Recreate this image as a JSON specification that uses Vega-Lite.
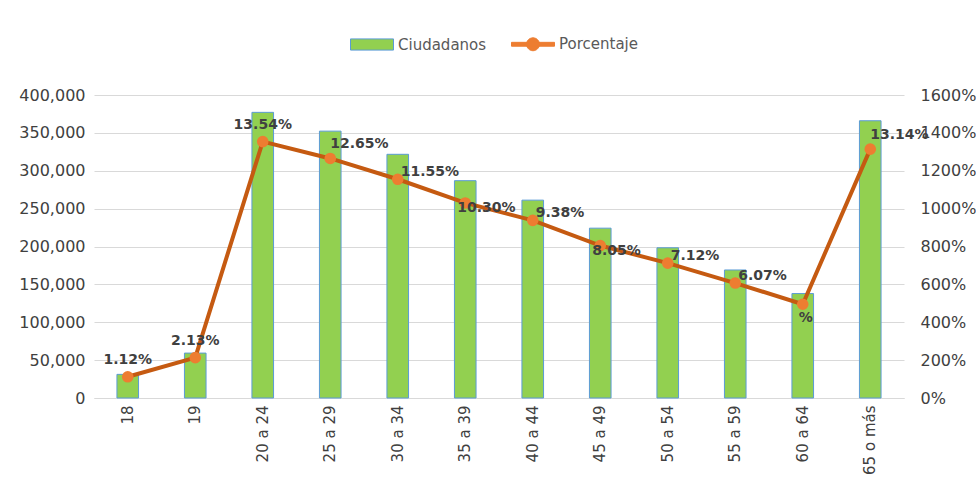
{
  "$schema": "https://vega.github.io/schema/vega-lite/v6.json",
  "width": 810,
  "height": 303,
  "autosize": "none",
  "padding": {"left": 94, "top": 95, "right": 72, "bottom": 95},
  "background": "white",
  "config": {
    "font": "DejaVu Sans",
    "view": {"stroke": null},
    "legend": {
      "title": null,
      "labelFont": "DejaVu Sans",
      "labelFontSize": 15,
      "labelColor": "#595959",
      "symbolSize": 1849,
      "symbolStrokeWidth": 1,
      "columnPadding": 22,
      "labelOffset": 4,
      "padding": 0
    }
  },
  "data": {
    "values": [
      {"edad": "18", "ciudadanos": 31200, "porcentaje": 1.12, "etiqueta": "1.12%"},
      {"edad": "19", "ciudadanos": 59300, "porcentaje": 2.13, "etiqueta": "2.13%"},
      {"edad": "20 a 24", "ciudadanos": 377100, "porcentaje": 13.54, "etiqueta": "13.54%"},
      {"edad": "25 a 29", "ciudadanos": 352300, "porcentaje": 12.65, "etiqueta": "12.65%"},
      {"edad": "30 a 34", "ciudadanos": 321700, "porcentaje": 11.55, "etiqueta": "11.55%"},
      {"edad": "35 a 39", "ciudadanos": 286900, "porcentaje": 10.30, "etiqueta": "10.30%"},
      {"edad": "40 a 44", "ciudadanos": 261200, "porcentaje": 9.38, "etiqueta": "9.38%"},
      {"edad": "45 a 49", "ciudadanos": 224200, "porcentaje": 8.05, "etiqueta": "8.05%"},
      {"edad": "50 a 54", "ciudadanos": 198300, "porcentaje": 7.12, "etiqueta": "7.12%"},
      {"edad": "55 a 59", "ciudadanos": 169000, "porcentaje": 6.07, "etiqueta": "6.07%"},
      {"edad": "60 a 64", "ciudadanos": 137900, "porcentaje": 4.95, "etiqueta": "%"},
      {"edad": "65 o más", "ciudadanos": 366000, "porcentaje": 13.14, "etiqueta": "13.14%"}
    ]
  },
  "encoding": {
    "x": {
      "field": "edad", "type": "nominal", "sort": null,
      "scale": {"paddingInner": 0.68, "paddingOuter": 0.34},
      "axis": {
        "title": null, "labelAngle": -90, "ticks": false, "tickSize": 0,
        "labelPadding": 7, "labelFont": "DejaVu Sans", "labelFontSize": 15,
        "labelColor": "#404040", "domainColor": "#D9D9D9", "domainWidth": 1, "grid": false
      }
    }
  },
  "layer": [
    {
      "mark": {"type": "bar", "strokeWidth": 1},
      "encoding": {
        "y": {
          "field": "ciudadanos", "type": "quantitative",
          "scale": {"domain": [0, 400000], "nice": false},
          "axis": {
            "title": null, "values": [0, 50000, 100000, 150000, 200000, 250000, 300000, 350000, 400000],
            "format": ",.0f", "ticks": false, "tickSize": 0, "domain": false, "labelPadding": 9,
            "labelFont": "DejaVu Sans", "labelFontSize": 16, "labelColor": "#404040",
            "gridColor": "#D9D9D9", "gridWidth": 1
          }
        },
        "color": {
          "datum": "Ciudadanos",
          "scale": {"domain": ["Ciudadanos", "Porcentaje"], "range": ["#92D050", "#ED7D31"]},
          "legend": {"orient": "none", "direction": "horizontal", "legendX": 256, "legendY": -73}
        },
        "stroke": {
          "datum": "Ciudadanos",
          "scale": {"domain": ["Ciudadanos", "Porcentaje"], "range": ["#5B9BD5", "#ED7D31"]},
          "legend": {"orient": "none", "direction": "horizontal", "legendX": 256, "legendY": -73}
        }
      }
    },
    {
      "encoding": {
        "y": {
          "field": "porcentaje", "type": "quantitative",
          "scale": {"domain": [0, 16], "nice": false},
          "axis": {
            "orient": "right", "title": null, "values": [0, 2, 4, 6, 8, 10, 12, 14, 16],
            "format": ".0%", "ticks": false, "tickSize": 0, "domain": false, "grid": false,
            "labelPadding": 16, "labelFont": "DejaVu Sans", "labelFontSize": 16, "labelColor": "#404040"
          }
        }
      },
      "layer": [
        {"mark": {"type": "line", "color": "#C55A11", "strokeWidth": 4}},
        {"mark": {"type": "point", "filled": true, "opacity": 1, "color": "#ED7D31", "size": 135}},
        {
          "transform": [{"filter": {"field": "edad", "oneOf": ["18", "19", "20 a 24"]}}],
          "mark": {"type": "text", "align": "center", "baseline": "middle", "dy": -17, "font": "DejaVu Sans", "fontSize": 14, "fontWeight": "bold", "color": "#404040"},
          "encoding": {"text": {"field": "etiqueta"}}
        },
        {
          "transform": [{"filter": {"field": "edad", "oneOf": ["25 a 29", "65 o más"]}}],
          "mark": {"type": "text", "align": "left", "baseline": "middle", "dx": 0, "dy": -14, "font": "DejaVu Sans", "fontSize": 14, "fontWeight": "bold", "color": "#404040"},
          "encoding": {"text": {"field": "etiqueta"}}
        },
        {
          "transform": [{"filter": {"field": "edad", "oneOf": ["30 a 34", "40 a 44", "50 a 54", "55 a 59"]}}],
          "mark": {"type": "text", "align": "left", "baseline": "middle", "dx": 3, "dy": -7, "font": "DejaVu Sans", "fontSize": 14, "fontWeight": "bold", "color": "#404040"},
          "encoding": {"text": {"field": "etiqueta"}}
        },
        {
          "transform": [{"filter": {"field": "edad", "oneOf": ["35 a 39", "45 a 49"]}}],
          "mark": {"type": "text", "align": "left", "baseline": "middle", "dx": -8, "dy": 5, "font": "DejaVu Sans", "fontSize": 14, "fontWeight": "bold", "color": "#404040"},
          "encoding": {"text": {"field": "etiqueta"}}
        },
        {
          "transform": [{"filter": {"field": "edad", "oneOf": ["60 a 64"]}}],
          "mark": {"type": "text", "align": "center", "baseline": "middle", "dx": 3, "dy": 14, "font": "DejaVu Sans", "fontSize": 14, "fontWeight": "bold", "color": "#404040"},
          "encoding": {"text": {"field": "etiqueta"}}
        }
      ]
    },
    {
      "transform": [{"filter": {"field": "edad", "equal": "ninguno"}}],
      "mark": {"type": "point", "filled": true, "opacity": 1},
      "encoding": {
        "color": {"datum": "Porcentaje"},
        "stroke": {"datum": "Porcentaje"},
        "shape": {
          "datum": "Porcentaje",
          "scale": {
            "domain": ["Ciudadanos", "Porcentaje"],
            "range": [
              "M-1,-0.26H1V0.26H-1Z",
              "M-1,-0.09H1V0.09H-1Z M-0.3,0A0.3,0.3 0 1,1 0.3,0A0.3,0.3 0 1,1 -0.3,0Z"
            ]
          },
          "legend": {"orient": "none", "direction": "horizontal", "legendX": 256, "legendY": -73}
        }
      }
    }
  ],
  "resolve": {"scale": {"y": "independent"}}
}
